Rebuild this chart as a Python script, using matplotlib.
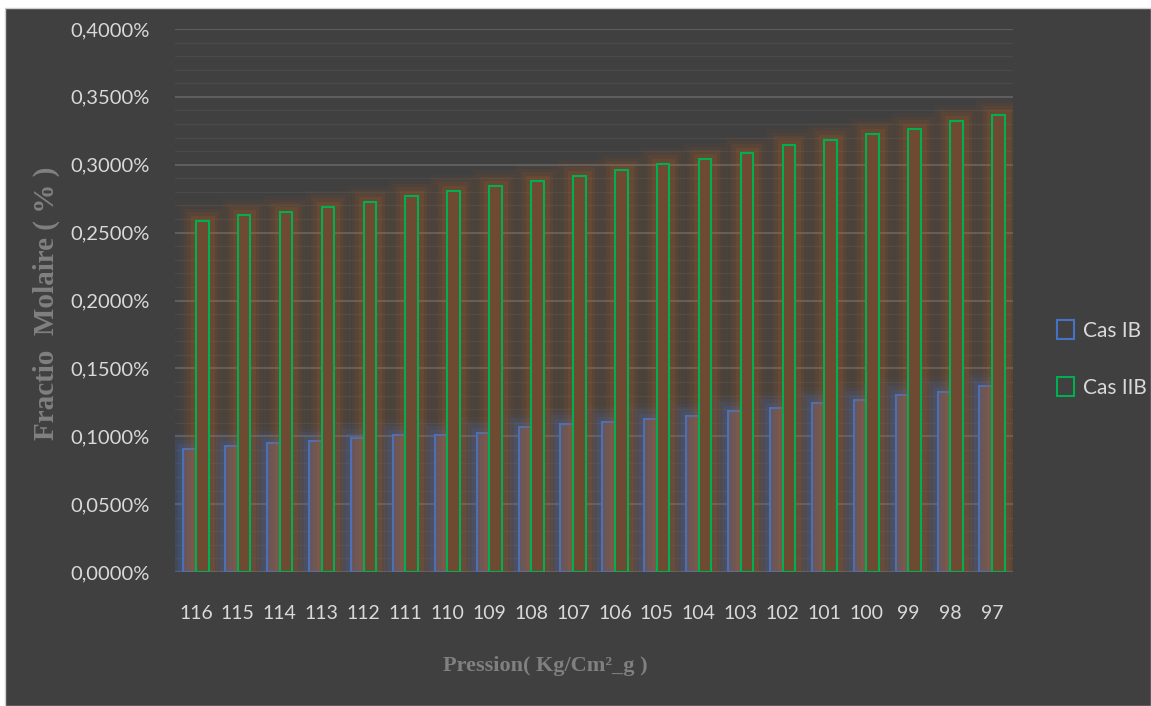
import matplotlib
matplotlib.use("Agg")
import matplotlib.pyplot as plt
import matplotlib.patheffects as pe
from matplotlib.patches import Patch, Rectangle
from matplotlib.ticker import MultipleLocator, FuncFormatter
import numpy as np

# Pressure steps (Kg/Cm²_g) and molar fractions (%)
pressures = ["116", "115", "114", "113", "112", "111", "110", "109", "108", "107",
             "106", "105", "104", "103", "102", "101", "100", "99", "98", "97"]
cas_ib = [0.0906, 0.0928, 0.0948, 0.0967, 0.0985, 0.1007, 0.1007, 0.1026, 0.1066, 0.1088,
          0.1107, 0.1124, 0.1149, 0.1186, 0.1205, 0.1247, 0.1267, 0.1306, 0.1325, 0.1370]
cas_iib = [0.2587, 0.2629, 0.2649, 0.2690, 0.2727, 0.2769, 0.2806, 0.2840, 0.2880, 0.2920,
           0.2960, 0.3005, 0.3046, 0.3088, 0.3144, 0.3180, 0.3225, 0.3260, 0.3323, 0.3365]
series_names = ["Cas IB", "Cas IIB"]

BG = "#404040"
BLUE = "#4472c4"
GREEN = "#00b050"
ORANGE = "#b8601e"
TICK_COL = "#d9d9d9"
TITLE_COL = "#808080"
SANS = ["Lato", "DejaVu Sans"]
SERIF = ["Liberation Serif", "DejaVu Serif"]

fig = plt.figure(figsize=(11.51, 7.06), dpi=100, facecolor="white")
# dark chart area inside a thin light frame
frame = Rectangle((5 / 1151, 0), 1 - 5 / 1151, 1 - 8 / 706,
                  transform=fig.transFigure, facecolor=BG,
                  edgecolor="#d0d0d0", linewidth=1.0, zorder=-10)
fig.patches.append(frame)

ax = fig.add_axes([175 / 1151, (706 - 572) / 706, (1013 - 175) / 1151, (572 - 29) / 706])
ax.set_facecolor("none")
ax.set_zorder(1)

x = np.arange(len(pressures))
w = 0.3


def glow(color, layers=((24, 0.05), (18, 0.07), (13, 0.10), (8, 0.16))):
    effects = [pe.Stroke(linewidth=lw, foreground=color, alpha=a) for lw, a in layers]
    return effects + [pe.Normal()]


bars_ib = ax.bar(x - w / 2, cas_ib, width=w, facecolor="#5e5663", edgecolor=BLUE,
                 linewidth=1.5, zorder=3)
bars_iib = ax.bar(x + w / 2, cas_iib, width=w, facecolor="#6e4a33", edgecolor=GREEN,
                  linewidth=1.5, zorder=4)
for b in bars_ib:
    b.set_path_effects(glow(BLUE))
for b in bars_iib:
    b.set_path_effects(glow(ORANGE))

ax.set_xlim(-0.5, len(pressures) - 0.5)
ax.set_ylim(0, 0.4)
ax.yaxis.set_major_locator(MultipleLocator(0.05))
ax.yaxis.set_minor_locator(MultipleLocator(0.01))
ax.yaxis.set_major_formatter(FuncFormatter(lambda v, p: f"{v:.4f}%".replace(".", ",")))
ax.grid(which="major", axis="y", color="#5e5e5e", linewidth=1.5, zorder=1)
ax.grid(which="minor", axis="y", color="#4a4a4a", linewidth=1.0, zorder=1)
ax.set_axisbelow(True)

ax.set_xticks(x)
ax.set_xticklabels(pressures)
for s in ax.spines.values():
    s.set_visible(False)
ax.tick_params(axis="both", which="both", length=0)
ax.tick_params(axis="x", pad=24)
ax.tick_params(axis="y", pad=18)
for lab in ax.get_xticklabels():
    lab.set_fontfamily(SANS)
    lab.set_fontsize(14)
    lab.set_color(TICK_COL)
for lab in ax.get_yticklabels():
    lab.set_fontfamily(SANS)
    lab.set_fontsize(14.5)
    lab.set_color(TICK_COL)

fig.text(545 / 1151, 1 - 666 / 706, "Pression( Kg/Cm²_g )", ha="center", va="center",
         fontsize=16, fontweight="bold", color=TITLE_COL, family=SERIF)
fig.text(46 / 1151, 1 - 303 / 706, "Fractio  Molaire ( % )", ha="center", va="center",
         rotation=90, fontsize=21, fontweight="bold", color=TITLE_COL, family=SERIF)

handles = [Patch(facecolor="none", edgecolor=BLUE, linewidth=1.5),
           Patch(facecolor="none", edgecolor=GREEN, linewidth=1.5)]
leg = fig.legend(handles, series_names, loc="center left",
                 bbox_to_anchor=(1038 / 1151, 1 - 359 / 706), frameon=False,
                 handlelength=0.85, handleheight=1.0, handletextpad=0.4,
                 labelspacing=1.75, prop={"family": SANS, "size": 15})
for t in leg.get_texts():
    t.set_color(TICK_COL)

fig.savefig("out.png", dpi=100, facecolor="white")
